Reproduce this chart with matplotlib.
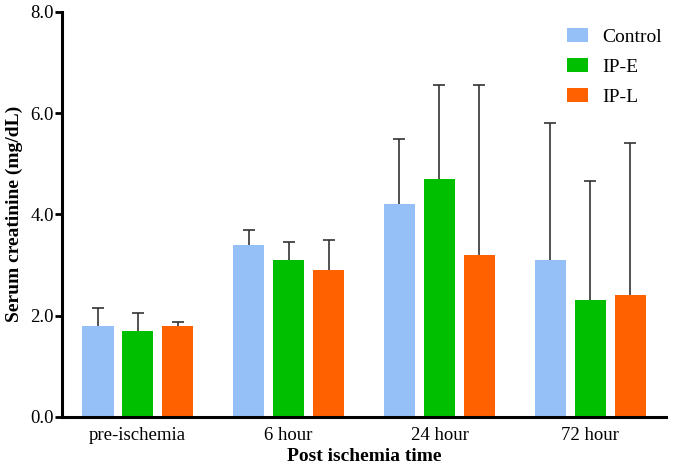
import numpy as np
import matplotlib.pyplot as plt
from matplotlib.patches import Patch

plt.rcParams['font.family'] = ['Liberation Serif', 'DejaVu Serif']

groups = ["pre-ischemia", "6 hour", "24 hour", "72 hour"]
series = ["Control", "IP-E", "IP-L"]
control = [1.8, 3.4, 4.2, 3.1]
ip_e = [1.7, 3.1, 4.7, 2.3]
ip_l = [1.8, 2.9, 3.2, 2.4]
control_err = [0.35, 0.3, 1.28, 2.7]
ip_e_err = [0.35, 0.35, 1.85, 2.35]
ip_l_err = [0.08, 0.6, 3.35, 3.0]
colors = ["#94BFF7", "#00BF00", "#FF6000"]

fig = plt.figure(figsize=(6.76, 4.69), dpi=100)
ax = fig.add_axes([0.092, 0.111, 0.893, 0.864])

x = np.arange(len(groups))
w = 0.21
step = 0.265
for i, (vals, errs) in enumerate(zip([control, ip_e, ip_l],
                                     [control_err, ip_e_err, ip_l_err])):
    pos = x + (i - 1) * step
    ax.bar(pos, vals, width=w, color=colors[i], zorder=2)
    eb = ax.errorbar(pos, vals, yerr=[np.zeros(len(errs)), errs], fmt='none',
                     ecolor='#333333', elinewidth=1.2, capsize=4, capthick=1.2, zorder=1)
    # hide the lower cap, only the upper whisker is shown
    eb[1][0].set_visible(False)

ax.set_xlim(-0.5, 3.5)
ax.set_ylim(0, 8)
ax.set_yticks([0, 2, 4, 6, 8])
ax.set_yticklabels(["0.0", "2.0", "4.0", "6.0", "8.0"], fontsize=13.5)
ax.set_xticks(x)
ax.set_xticklabels(groups, fontsize=13.5)
ax.tick_params(axis='x', length=0, pad=7)
ax.tick_params(axis='y', length=5, width=2, direction='out', pad=1)
for s in ['top', 'right']:
    ax.spines[s].set_visible(False)
for s in ['left', 'bottom']:
    ax.spines[s].set_linewidth(2.2)
ax.set_xlabel("Post ischemia time", fontsize=14, fontweight='bold', labelpad=3)
ax.set_ylabel("Serum creatinine (mg/dL)", fontsize=14, fontweight='bold', labelpad=5)

handles = [Patch(facecolor=c, label=l) for c, l in zip(colors, series)]
ax.legend(handles=handles, loc='upper right', bbox_to_anchor=(1.022, 1.002), frameon=False,
          fontsize=14, handlelength=1.1, handleheight=0.72, labelspacing=0.62, handletextpad=0.7)

fig.savefig("out.png", dpi=100)
